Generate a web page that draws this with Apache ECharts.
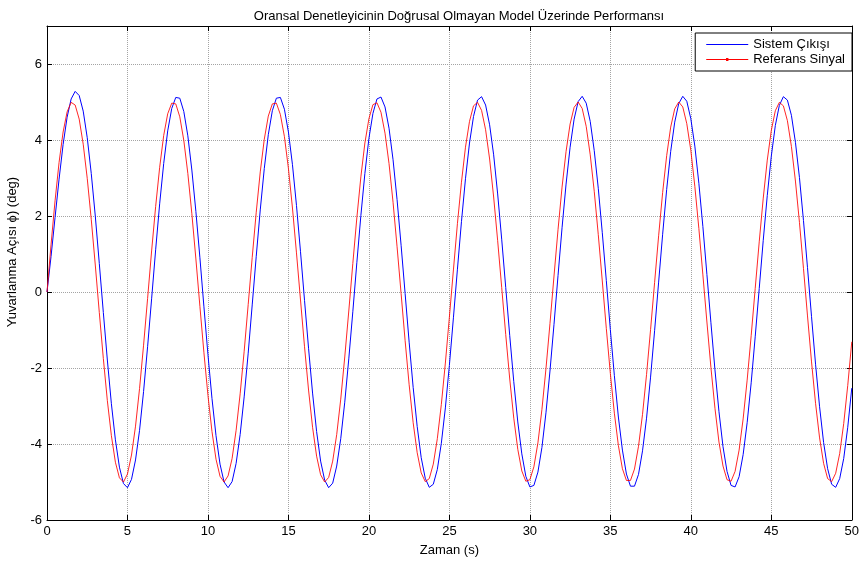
<!DOCTYPE html>
<html>
<head>
<meta charset="utf-8">
<script src="https://cdn.jsdelivr.net/npm/echarts@6/dist/echarts.min.js"></script>
<style>html,body{margin:0;padding:0;background:#fff;}#c{width:862px;height:562px;}</style>
</head>
<body>
<div id="c"></div>
<script>
// Sample step (s) and time range
const tStart = 0;
const tStep = 0.25;
// Referans Sinyal (red), one value every 0.25 s from 0 to 50 s
const referenceSignal = [
0.00,1.24,2.40,3.41,4.21,4.74,4.99,4.92,4.55,3.89,2.99,1.91,0.71,-0.54,-1.75,-2.86,-3.78,-4.48,-4.89,-5.00,-4.79,-4.29,-3.53,-2.54,-1.40,
-0.17,1.08,2.25,3.28,4.12,4.69,4.97,4.95,4.61,3.99,3.12,2.06,0.87,-0.38,-1.60,-2.72,-3.67,-4.40,-4.85,-5.00,-4.84,-4.38,-3.64,-2.68,-1.56,
-0.33,0.91,2.10,3.16,4.02,4.63,4.95,4.97,4.67,4.09,3.25,2.21,1.03,-0.21,-1.44,-2.58,-3.56,-4.32,-4.81,-5.00,-4.88,-4.45,-3.75,-2.82,-1.71,
-0.50,0.75,1.95,3.03,3.92,4.56,4.93,4.98,4.73,4.18,3.38,2.36,1.19,-0.04,-1.28,-2.44,-3.44,-4.23,-4.76,-4.99,-4.91,-4.53,-3.86,-2.96,-1.87,
-0.66,0.58,1.80,2.89,3.81,4.49,4.90,4.99,4.78,4.27,3.50,2.50,1.35,0.12,-1.12,-2.29,-3.32,-4.14,-4.71,-4.98,-4.94,-4.60,-3.97,-3.09,-2.02,
-0.83,0.42,1.64,2.76,3.70,4.42,4.86,5.00,4.83,4.36,3.61,2.65,1.51,0.29,-0.96,-2.14,-3.19,-4.04,-4.65,-4.96,-4.96,-4.66,-4.06,-3.22,-2.17,
-0.99,0.25,1.48,2.62,3.59,4.34,4.82,5.00,4.87,4.43,3.73,2.78,1.67,0.45,-0.79,-1.99,-3.06,-3.95,-4.58,-4.94,-4.98,-4.72,-4.16,-3.34,-2.32,
-1.15,0.09,1.32,2.47,3.47,4.25,4.77,4.99,4.90,4.51,3.83,2.92,1.83,0.62,-0.63,-1.84,-2.93,-3.84,-4.51,-4.91,-4.99,-4.77,-4.25,-3.46,-2.46,
-1.31];
// Sistem Çıkışı (blue), same time samples
const systemOutput = [
0.00,0.93,1.96,2.97,3.88,4.60,5.08,5.28,5.17,4.76,4.06,3.12,2.00,0.75,-0.54,-1.79,-2.94,-3.89,-4.61,-5.04,-5.15,-4.93,-4.42,-3.64,-2.62,
-1.44,-0.18,1.11,2.32,3.38,4.24,4.83,5.12,5.10,4.75,4.11,3.21,2.12,0.90,-0.39,-1.65,-2.80,-3.78,-4.53,-5.00,-5.15,-4.99,-4.51,-3.75,-2.76,
-1.61,-0.34,0.94,2.16,3.25,4.14,4.77,5.10,5.12,4.81,4.21,3.35,2.28,1.06,-0.22,-1.48,-2.66,-3.67,-4.45,-4.95,-5.15,-5.03,-4.58,-3.86,-2.90,
-1.76,-0.52,0.77,2.01,3.12,4.04,4.70,5.08,5.13,4.87,4.31,3.48,2.43,1.23,-0.04,-1.32,-2.51,-3.54,-4.36,-4.90,-5.14,-5.06,-4.67,-3.98,-3.05,
-1.93,-0.68,0.60,1.85,2.98,3.92,4.62,5.05,5.14,4.92,4.40,3.61,2.58,1.39,0.12,-1.15,-2.36,-3.42,-4.26,-4.85,-5.13,-5.09,-4.74,-4.09,-3.18,
-2.08,-0.85,0.43,1.69,2.84,3.81,4.55,5.01,5.15,4.97,4.49,3.72,2.73,1.56,0.30,-0.99,-2.20,-3.29,-4.16,-4.79,-5.11,-5.11,-4.80,-4.18,-3.32,
-2.24,-1.02,0.26,1.52,2.70,3.70,4.47,4.96,5.15,5.02,4.56,3.84,2.86,1.72,0.46,-0.81,-2.05,-3.15,-4.07,-4.72,-5.09,-5.13,-4.86,-4.28,-3.44,
-2.39,-1.18,0.09,1.36,2.54,3.57,4.38,4.91,5.14,5.05,4.65,3.94,3.01,1.88,0.64,-0.65,-1.90,-3.02,-3.96,-4.65,-5.06,-5.14,-4.91,-4.38,-3.56,
-2.53];
const xTicks = [0,5,10,15,20,25,30,35,40,45,50];
const yTicks = [-6,-4,-2,0,2,4,6];
const titleText = 'Oransal Denetleyicinin Doğrusal Olmayan Model Üzerinde Performansı';
const xName = 'Zaman (s)';
const yName = 'Yuvarlanma Açısı ϕ) (deg)';
const names = ['Sistem Çıkışı', 'Referans Sinyal'];

const FONT = 'Liberation Sans, Arial, sans-serif';
const chart = echarts.init(document.getElementById('c'), null, {renderer: 'canvas'});
const toPairs = ys => ys.map((y, i) => [tStart + i * tStep, y]);
const gridLine = {show: true, lineStyle: {color: '#a4a4a4', width: 1, type: [1, 1]}};
const tick = {show: true, inside: true, length: 5, lineStyle: {color: '#000'}};
chart.setOption({
  animation: false,
  backgroundColor: '#fff',
  title: {
    text: titleText,
    left: 454, top: 5, textAlign: 'center',
    textStyle: {fontFamily: FONT, fontSize: 13, fontWeight: 'normal', color: '#000'}
  },
  legend: {
    orient: 'vertical', right: 10, top: 33,
    borderColor: '#000', borderWidth: 1, backgroundColor: '#fff', borderRadius: 0,
    padding: [5, 7, 5, 11], itemWidth: 42, itemHeight: 8, itemGap: 2,
    textStyle: {fontFamily: FONT, fontSize: 13, color: '#000'},
    data: [
      {name: names[0], icon: 'path://M0,0 H42 V1.2 H0 Z'},
      {name: names[1], icon: 'path://M0,1 H42 V2.2 H0 Z M19.8,0 H22.2 V3.2 H19.8 Z'}
    ]
  },
  graphic: [{
    type: 'text', x: 12, y: 252, rotation: Math.PI / 2,
    style: {text: yName, font: '13px ' + FONT, fill: '#000', textAlign: 'center', textVerticalAlign: 'middle'}
  }],
  grid: {left: 47, right: 5, top: 26, bottom: 42, containLabel: false},
  xAxis: [{
    type: 'value', min: 0, max: 50, interval: 5,
    name: xName, nameLocation: 'middle', nameGap: 24,
    nameTextStyle: {fontFamily: FONT, fontSize: 13, color: '#000'},
    axisLine: {show: true, onZero: false, lineStyle: {color: '#000', width: 1}},
    axisTick: tick,
    axisLabel: {fontFamily: FONT, fontSize: 13, color: '#000', margin: 5,
      formatter: v => (xTicks.indexOf(v) >= 0 ? String(v) : '')},
    splitLine: gridLine
  }, {
    type: 'value', min: 0, max: 50, interval: 5, position: 'top',
    axisLine: {show: true, onZero: false, lineStyle: {color: '#000'}},
    axisTick: tick, axisLabel: {show: false}, splitLine: {show: false}
  }],
  yAxis: [{
    type: 'value', min: -6, max: 7, interval: 2,
    axisLine: {show: true, onZero: false, lineStyle: {color: '#000', width: 1}},
    axisTick: tick,
    axisLabel: {fontFamily: FONT, fontSize: 13, color: '#000', margin: 5,
      formatter: v => (yTicks.indexOf(v) >= 0 ? String(v) : '')},
    splitLine: gridLine
  }, {
    type: 'value', min: -6, max: 7, interval: 2, position: 'right',
    axisLine: {show: true, onZero: false, lineStyle: {color: '#000'}},
    axisTick: tick, axisLabel: {show: false}, splitLine: {show: false}
  }],
  series: [{
    name: names[0], type: 'line', data: toPairs(systemOutput),
    smooth: false, symbol: 'none', showSymbol: false,
    lineStyle: {color: '#0000ff', width: 1}, itemStyle: {color: '#0000ff'}, z: 2
  }, {
    name: names[1], type: 'line', data: toPairs(referenceSignal),
    smooth: false, symbol: 'none', showSymbol: false,
    lineStyle: {color: '#ff0000', width: 1, opacity: 0.85}, itemStyle: {color: '#ff0000'}, z: 3
  }]
});
</script>
</body>
</html>
